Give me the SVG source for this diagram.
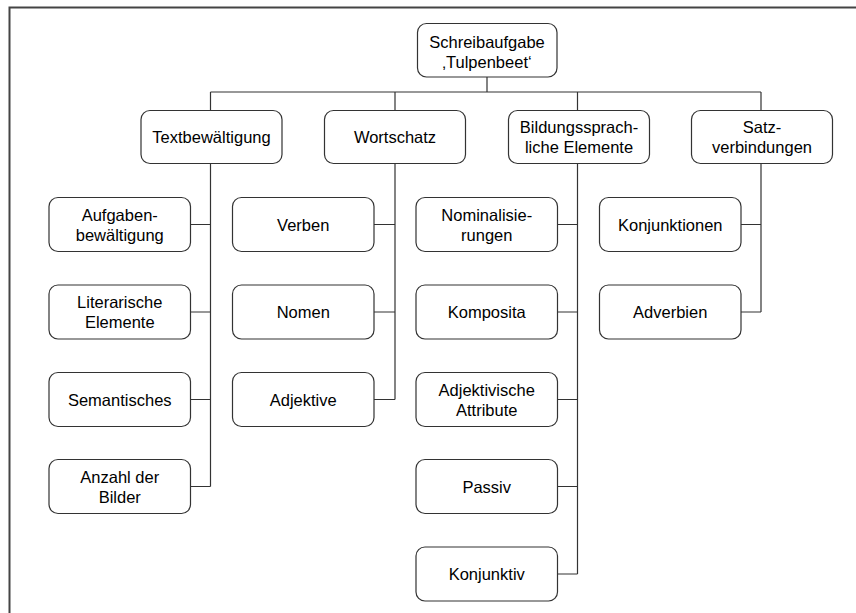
<svg xmlns="http://www.w3.org/2000/svg" width="856" height="613" viewBox="0 0 856 613">
<style>
.box{fill:#fff;stroke:#333;stroke-width:1.2}
.ln{fill:none;stroke:#333;stroke-width:1.2}
.frame{fill:none;stroke:#444;stroke-width:2}
text{font-family:"Liberation Sans",Arial,sans-serif;font-size:16.5px;fill:#000;text-anchor:middle}
</style>
<rect width="856" height="613" fill="#fff"/>
<path class="frame" d="M9.5 613 V7.5 H856"/>
<g id="connectors">
<path class="ln" d="M487 77 V92 M210.5 92 H761 M210.5 92 V110.5 M395 92 V110.5 M577.5 92 V110.5 M761 92 V110.5"/>
<path class="ln" d="M210.5 163.5 V486.5 M190.5 224.5 H210.5 M190.5 312 H210.5 M190.5 399.5 H210.5 M190.5 486.5 H210.5"/>
<path class="ln" d="M395 163.5 V399.5 M374 224.5 H395 M374 312 H395 M374 399.5 H395"/>
<path class="ln" d="M577.5 163.5 V574 M557.5 224.5 H577.5 M557.5 312 H577.5 M557.5 399.5 H577.5 M557.5 486.5 H577.5 M557.5 574 H577.5"/>
<path class="ln" d="M761 163.5 V312 M741 224.5 H761 M741 312 H761"/>
</g>
<g id="root"><rect class="box" x="417.5" y="23.5" width="139.5" height="53.5" rx="9"/><text x="487" y="48">Schreibaufgabe</text><text x="487" y="68">‚Tulpenbeet‘</text></g>
<g id="textbewaeltigung"><rect class="box" x="141" y="110.5" width="141" height="53" rx="9"/><text x="211.5" y="143">Textbewältigung</text></g>
<g id="wortschatz"><rect class="box" x="324.5" y="110.5" width="141" height="53" rx="9"/><text x="395" y="143">Wortschatz</text></g>
<g id="bildungssprache"><rect class="box" x="508.5" y="110.5" width="141" height="53" rx="9"/><text x="579" y="133">Bildungssprach-</text><text x="579" y="153">liche Elemente</text></g>
<g id="satzverbindungen"><rect class="box" x="691.5" y="110.5" width="141" height="53" rx="9"/><text x="762" y="133">Satz-</text><text x="762" y="153">verbindungen</text></g>
<g id="aufgaben"><rect class="box" x="49" y="197.5" width="141.5" height="54" rx="9"/><text x="119.75" y="220.5">Aufgaben-</text><text x="119.75" y="240.5">bewältigung</text></g>
<g id="literarische"><rect class="box" x="49" y="285" width="141.5" height="54" rx="9"/><text x="119.75" y="308">Literarische</text><text x="119.75" y="328">Elemente</text></g>
<g id="semantisches"><rect class="box" x="49" y="372.5" width="141.5" height="54" rx="9"/><text x="119.75" y="405.5">Semantisches</text></g>
<g id="anzahl"><rect class="box" x="49" y="459.5" width="141.5" height="54" rx="9"/><text x="119.75" y="482.5">Anzahl der</text><text x="119.75" y="502.5">Bilder</text></g>
<g id="verben"><rect class="box" x="232.5" y="197.5" width="141.5" height="54" rx="9"/><text x="303.25" y="230.5">Verben</text></g>
<g id="nomen"><rect class="box" x="232.5" y="285" width="141.5" height="54" rx="9"/><text x="303.25" y="318">Nomen</text></g>
<g id="adjektive"><rect class="box" x="232.5" y="372.5" width="141.5" height="54" rx="9"/><text x="303.25" y="405.5">Adjektive</text></g>
<g id="nominalisierungen"><rect class="box" x="416" y="197.5" width="141.5" height="54" rx="9"/><text x="486.75" y="220.5">Nominalisie-</text><text x="486.75" y="240.5">rungen</text></g>
<g id="komposita"><rect class="box" x="416" y="285" width="141.5" height="54" rx="9"/><text x="486.75" y="318">Komposita</text></g>
<g id="adjattribute"><rect class="box" x="416" y="372.5" width="141.5" height="54" rx="9"/><text x="486.75" y="395.5">Adjektivische</text><text x="486.75" y="415.5">Attribute</text></g>
<g id="passiv"><rect class="box" x="416" y="459.5" width="141.5" height="54" rx="9"/><text x="486.75" y="492.5">Passiv</text></g>
<g id="konjunktiv"><rect class="box" x="416" y="547" width="141.5" height="54" rx="9"/><text x="486.75" y="580">Konjunktiv</text></g>
<g id="konjunktionen"><rect class="box" x="599.5" y="197.5" width="141.5" height="54" rx="9"/><text x="670.25" y="230.5">Konjunktionen</text></g>
<g id="adverbien"><rect class="box" x="599.5" y="285" width="141.5" height="54" rx="9"/><text x="670.25" y="318">Adverbien</text></g>
</svg>
